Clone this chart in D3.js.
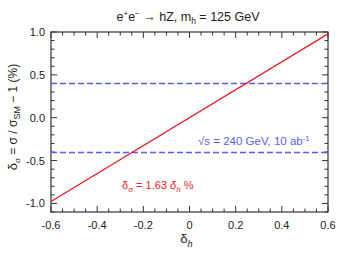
<!DOCTYPE html>
<html><head><meta charset="utf-8">
<script src="https://cdn.jsdelivr.net/npm/d3@7"></script>
<style>body{margin:0;background:#fff}svg{display:block;font-family:"Liberation Sans",Arial,sans-serif}</style>
</head><body><svg id="c" width="349" height="262"></svg>
<script>
const xDomain = [-0.6, 0.6];
const yDomain = [-1.1, 1.0];
const xTicks = [-0.6, -0.4, -0.2, 0, 0.2, 0.4, 0.6];
const xTickLabels = ["-0.6", "-0.4", "-0.2", "0", "0.2", "0.4", "0.6"];
const yTicks = [-1.0, -0.5, 0.0, 0.5, 1.0];
const yTickLabels = ["-1.0", "-0.5", "0.0", "0.5", "1.0"];
const lineX = [-0.6, 0.6];
const lineY = [-0.978, 0.978];
const bandLevels = [0.4, -0.4];

const svg = d3.select("#c");
const L = 51, R = 328, T = 32, B = 212;
const x = d3.scaleLinear().domain(xDomain).range([L, R]);
const y = d3.scaleLinear().domain(yDomain).range([B, T]);

const xMinor = d3.range(-0.6, 0.6001, 0.05);
const yMinor = d3.range(-1.1, 1.0001, 0.1);

// frame
svg.append("rect").attr("x", L).attr("y", T).attr("width", R - L).attr("height", B - T)
  .attr("fill", "none").attr("stroke", "#333").attr("stroke-width", 1.2);

const tk = svg.append("g").attr("stroke", "#333").attr("stroke-width", 1);
xMinor.forEach(v => {
  const major = xTicks.some(t => Math.abs(t - v) < 1e-6);
  const len = major ? 6 : 3.5;
  tk.append("line").attr("x1", x(v)).attr("x2", x(v)).attr("y1", B).attr("y2", B - len);
  tk.append("line").attr("x1", x(v)).attr("x2", x(v)).attr("y1", T).attr("y2", T + len);
});
yMinor.forEach(v => {
  const major = yTicks.some(t => Math.abs(t - v) < 1e-6);
  const len = major ? 6 : 3.5;
  tk.append("line").attr("y1", y(v)).attr("y2", y(v)).attr("x1", L).attr("x2", L + len);
  tk.append("line").attr("y1", y(v)).attr("y2", y(v)).attr("x1", R).attr("x2", R - len);
});

// tick labels
xTicks.forEach((v, i) => {
  svg.append("text").attr("x", x(v)).attr("y", B + 17).attr("text-anchor", "middle")
    .attr("font-size", 11).attr("fill", "#222").text(xTickLabels[i]);
});
yTicks.forEach((v, i) => {
  svg.append("text").attr("x", L - 6).attr("y", y(v) + 4).attr("text-anchor", "end")
    .attr("font-size", 11).attr("fill", "#222").text(yTickLabels[i]);
});

// dashed lines
bandLevels.forEach(v => {
  const yy = Math.round(y(v)) + 0.5;
  svg.append("line").attr("x1", L).attr("x2", R).attr("y1", yy).attr("y2", yy)
    .attr("stroke", "#5c5cf2").attr("stroke-width", 1.3).attr("stroke-dasharray", "6,3");
});

// red line
svg.append("path").datum(lineX.map((d, i) => [d, lineY[i]]))
  .attr("d", d3.line().x(d => x(d[0])).y(d => y(d[1])))
  .attr("stroke", "#ee1c25").attr("stroke-width", 1.3).attr("fill", "none");

// title
const title = svg.append("text").attr("x", 188).attr("y", 21).attr("text-anchor", "middle")
  .attr("font-size", 12.5).attr("fill", "#222");
title.append("tspan").text("e");
title.append("tspan").attr("dy", -5).attr("font-size", 8).text("+");
title.append("tspan").attr("dy", 5).text("e");
title.append("tspan").attr("dy", -5).attr("font-size", 8).text("−");
title.append("tspan").attr("dy", 5).text(" → hZ,  m");
title.append("tspan").attr("dy", 3).attr("font-size", 8.5).text("h");
title.append("tspan").attr("dy", -3).text(" = 125 GeV");

// blue annotation
const ann = svg.append("text").attr("x", 198).attr("y", 145).attr("font-size", 11.5).attr("fill", "#5c5cf2");
ann.append("tspan").text("√s = 240 GeV, 10 ab");
ann.append("tspan").attr("dy", -4).attr("font-size", 8).text("-1");

// red annotation
const ra = svg.append("text").attr("x", 122).attr("y", 189).attr("font-size", 11).attr("fill", "#ee1c25");
ra.append("tspan").text("δ");
ra.append("tspan").attr("dy", 3).attr("font-size", 8).text("σ");
ra.append("tspan").attr("dy", -3).text(" = 1.63 ");
ra.append("tspan").attr("font-style", "italic").text("δ");
ra.append("tspan").attr("dy", 3).attr("font-size", 8).attr("font-style", "italic").text("h");
ra.append("tspan").attr("dy", -3).text(" %");

// x axis title
const xt = svg.append("text").attr("x", (L + R) / 2 - 3).attr("y", 243).attr("text-anchor", "middle")
  .attr("font-size", 13).attr("fill", "#222");
xt.append("tspan").text("δ");
xt.append("tspan").attr("dy", 4).attr("font-size", 9).attr("font-style", "italic").text("h");

// y axis title
const yt = svg.append("text").attr("transform", `translate(17,${(T + B) / 2 - 5}) rotate(-90)`)
  .attr("text-anchor", "middle").attr("font-size", 12).attr("fill", "#222");
yt.append("tspan").attr("font-size", 13).text("δ");
yt.append("tspan").attr("dy", 3).attr("font-size", 8).text("σ");
yt.append("tspan").attr("dy", -3).text(" = σ / σ");
yt.append("tspan").attr("dy", 3).attr("font-size", 9).text("SM");
yt.append("tspan").attr("dy", -3).text(" − 1   (%)");
</script></body></html>
